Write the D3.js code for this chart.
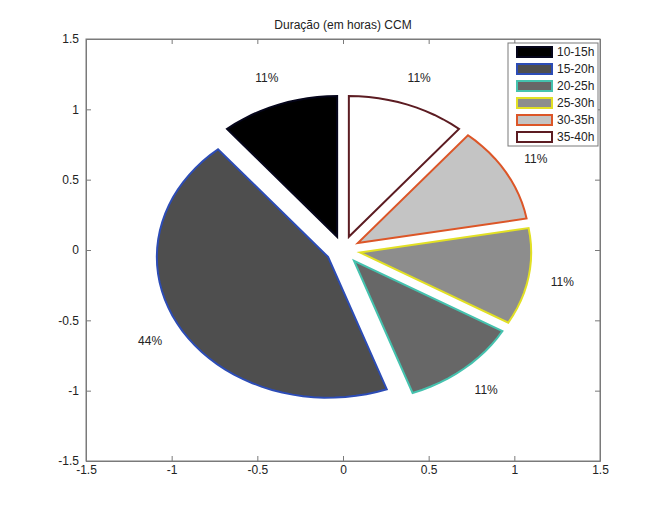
<!DOCTYPE html>
<html>
<head>
<meta charset="utf-8">
<script src="https://cdn.jsdelivr.net/npm/d3@7"></script>
<style>
  html, body { margin: 0; padding: 0; background: #fff; }
  svg { display: block; font-family: "Liberation Sans", Arial, sans-serif; }
</style>
</head>
<body>
<svg id="chart" width="664" height="518"></svg>
<script>
const title = "Duração (em horas) CCM";
const categories = ["10-15h", "15-20h", "20-25h", "25-30h", "30-35h", "35-40h"];
const values = [1, 4, 1, 1, 1, 1];
const fillColors = ["#000000", "#4e4e4e", "#676767", "#8d8d8d", "#c4c4c4", "#ffffff"];
const edgeColors = ["#05051a", "#2c4cb6", "#45c2ae", "#e2e024", "#dc5628", "#5c1c22"];
const xTicks = [-1.5, -1, -0.5, 0, 0.5, 1, 1.5];
const yTicks = [-1.5, -1, -0.5, 0, 0.5, 1, 1.5];
const explode = 0.1;
const labelRadius = 1.3;

const svg = d3.select("#chart");
const L = 86, R = 600, T = 39, B = 461;
const x = d3.scaleLinear().domain([-1.5, 1.5]).range([L, R]);
const y = d3.scaleLinear().domain([-1.5, 1.5]).range([B, T]);
const fs = "12px";

// axes box
svg.append("rect").attr("x", L).attr("y", T).attr("width", R - L).attr("height", B - T)
  .attr("fill", "#fff").attr("stroke", "#7a7a7a").attr("stroke-width", 1);

const fmt = d => String(d);
const axCol = "#7a7a7a";
const gxB = svg.append("g").attr("transform", `translate(0,${B})`)
  .call(d3.axisBottom(x).tickValues(xTicks).tickFormat(fmt).tickSizeInner(-5).tickSizeOuter(0).tickPadding(8));
const gxT = svg.append("g").attr("transform", `translate(0,${T})`)
  .call(d3.axisTop(x).tickValues(xTicks).tickFormat("").tickSizeInner(-5).tickSizeOuter(0));
const gyL = svg.append("g").attr("transform", `translate(${L},0)`)
  .call(d3.axisLeft(y).tickValues(yTicks).tickFormat(fmt).tickSizeInner(-5).tickSizeOuter(0).tickPadding(8));
const gyR = svg.append("g").attr("transform", `translate(${R},0)`)
  .call(d3.axisRight(y).tickValues(yTicks).tickFormat("").tickSizeInner(-5).tickSizeOuter(0));
[gxB, gxT, gyL, gyR].forEach(g => {
  g.select(".domain").attr("stroke", axCol);
  g.selectAll(".tick line").attr("stroke", axCol);
  g.selectAll("text").attr("fill", "#222").style("font-size", fs)
    .style("font-family", "'Liberation Sans', Arial, sans-serif");
});
gxB.selectAll("text").attr("dy", "0.4em");
gyL.selectAll(".tick text").attr("dx", "1");

// title
svg.append("text").attr("x", (L + R) / 2).attr("y", 29).attr("text-anchor", "middle")
  .style("font-size", fs).attr("fill", "#222").text(title);

// pie (MATLAB style: start at top, counterclockwise)
const total = d3.sum(values);
const pie = d3.pie().sort(null).startAngle(0).endAngle(-2 * Math.PI);
const arcs = pie(values);
const line = d3.line().x(p => x(p[0])).y(p => y(p[1]));
const g = svg.append("g");
arcs.forEach((a, i) => {
  const mid = (a.startAngle + a.endAngle) / 2;
  const ox = explode * Math.sin(mid), oy = explode * Math.cos(mid);
  const n = Math.max(2, Math.ceil(100 * Math.abs(a.endAngle - a.startAngle) / (2 * Math.PI)));
  const pts = [[ox, oy]];
  for (let k = 0; k <= n; k++) {
    const t = a.startAngle + (a.endAngle - a.startAngle) * k / n;
    pts.push([ox + Math.sin(t), oy + Math.cos(t)]);
  }
  pts.push([ox, oy]);
  g.append("path").attr("d", line(pts) + "Z")
    .attr("fill", fillColors[i]).attr("stroke", edgeColors[i])
    .attr("stroke-width", 2).attr("stroke-linejoin", "miter");
  const pct = Math.round(100 * values[i] / total) + "%";
  g.append("text")
    .attr("x", x(labelRadius * Math.sin(mid)))
    .attr("y", y(labelRadius * Math.cos(mid)))
    .attr("text-anchor", "middle").attr("dominant-baseline", "central")
    .style("font-size", fs).attr("fill", "#222").text(pct);
});

// legend
const lg = svg.append("g");
const lx = 508, ly = 43, lw = 90, lh = 103;
lg.append("rect").attr("x", lx).attr("y", ly).attr("width", lw).attr("height", lh)
  .attr("fill", "#fff").attr("stroke", "#7a7a7a").attr("stroke-width", 1);
categories.forEach((c, i) => {
  const cy = ly + 9 + i * 17;
  lg.append("rect").attr("x", lx + 9).attr("y", cy - 5).attr("width", 35).attr("height", 10)
    .attr("fill", fillColors[i]).attr("stroke", edgeColors[i]).attr("stroke-width", 2);
  lg.append("text").attr("x", lx + 49).attr("y", cy).attr("dominant-baseline", "central")
    .style("font-size", fs).attr("fill", "#222").text(c);
});
</script>
</body>
</html>
